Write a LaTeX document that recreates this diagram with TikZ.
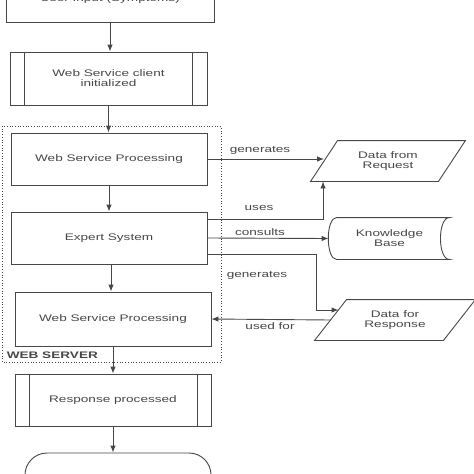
\documentclass[tikz,border=0pt]{standalone}
\usepackage{fontspec}
\setmainfont[FakeStretch=1.43]{Liberation Sans}
\usetikzlibrary{arrows.meta}
\begin{document}
\begin{tikzpicture}[x=1pt,y=-1pt,>={Latex[length=7pt,width=5.5pt]},line width=0.9pt,color=black!72,
        font=\fontsize{9.5}{10}\selectfont,
        box/.style={draw,minimum width=196pt,minimum height=52pt,align=center,inner sep=0pt},
        data/.style={minimum width=127pt,minimum height=40pt,align=center,inner sep=0pt}]
        \useasboundingbox (0,0) rectangle (474,474);
        \clip (0,0) rectangle (474,474);
        % main column
        \node[box,minimum width=208pt,minimum height=46pt] (inp) at (110,-1) {User Input (Symptoms)};
        \node[box,minimum width=197pt,minimum height=53pt] (cli) at (108.5,78.5) {Web Service client\\initialized};
        \draw ([xshift=15pt]cli.north west) -- ([xshift=15pt]cli.south west);
        \draw ([xshift=-15pt]cli.north east) -- ([xshift=-15pt]cli.south east);
        \node[box] (wsp) at (109,159) {Web Service Processing};
        \node[box] (es) at (109,238) {Expert System};
        \node[box,minimum height=54pt] (wsr) at (113,319) {Web Service Processing};
        \node[box] (resp) at (113,400) {Response processed};
        \draw ([xshift=15pt]resp.north west) -- ([xshift=15pt]resp.south west);
        \draw ([xshift=-14pt]resp.north east) -- ([xshift=-14pt]resp.south east);
        \node[draw,rounded corners=22pt,minimum width=186pt,minimum height=60pt] (done) at (118,483) {};
        \draw[->] (inp.south) -- (inp.south |- cli.north);
        \draw[->] (cli.south) -- (cli.south |- wsp.north);
        \draw[->] (wsp.south) -- (wsp.south |- es.north);
        \draw[->] ([xshift=2pt]es.south) -- ([xshift=2pt]es.south |- wsr.north);
        \draw[->] (wsr.south) -- (wsr.south |- resp.north);
        \draw[->] (resp.south) -- (resp.south |- done.north);
        % web server frame
        \draw[dotted,line width=0.7pt] (2,126) rectangle (221,362);
        \node[anchor=west,font=\fontsize{9.5}{10}\selectfont\bfseries] (srv) at (3,355) {WEB SERVER};
        % data side
        \node[data] (req) at (388,161) {Data from\\Request};
        \draw ([xshift=13.5pt]req.north west) -- ([xshift=13.5pt]req.north east)
            -- ([xshift=-13.5pt]req.south east) -- ([xshift=-13.5pt]req.south west) -- cycle;
        \node[data,minimum width=128pt] (rsp) at (395,320) {Data for\\Response};
        \draw ([xshift=16pt]rsp.north west) -- ([xshift=16pt]rsp.north east)
            -- ([xshift=-16pt]rsp.south east) -- ([xshift=-16pt]rsp.south west) -- cycle;
        \node[data,minimum width=121pt,minimum height=41pt] (kb) at (389.5,238.5) {Knowledge\\Base};
        \draw ([xshift=8pt]kb.north west) -- ([xshift=-1pt]kb.north east)
            .. controls ([xshift=-13pt]kb.north east) and ([xshift=-13pt]kb.south east) .. ([xshift=-1pt]kb.south east)
            -- ([xshift=8pt]kb.south west)
            .. controls ([xshift=-3pt]kb.south west) and ([xshift=-3pt]kb.north west) .. ([xshift=8pt]kb.north west);
        \draw[->] (wsp.east) -- (wsp.east -| req.west);
        \draw[->] ([yshift=19pt]es.east) -| ([xshift=-1pt]req.south west);
        \draw[->] (es.east) -- (kb.west);
        \draw[->] ([yshift=-16pt]es.east) -| ([xshift=-14pt,yshift=10pt]rsp.west) -- ([xshift=8pt,yshift=10pt]rsp.west);
        \draw[->] (rsp.west) -- (wsr.east);
        \node (g1) at (260,150) {generates};
        \node (us) at (259,208) {uses};
        \node (co) at (260,232) {consults};
        \node (g2) at (257,275) {generates};
        \node (uf) at (270,326) {used for};
    \end{tikzpicture}
\end{document}
